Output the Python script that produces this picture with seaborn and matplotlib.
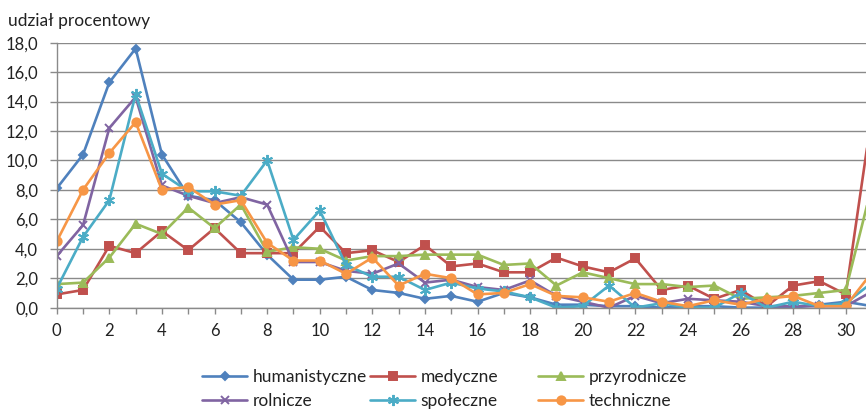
import pandas as pd
import numpy as np
import matplotlib.pyplot as plt
import seaborn as sns

# udzial procentowy wg dziedziny
x_vals = list(range(32))
humanistyczne = [8.1, 10.4, 15.3, 17.6, 10.4, 7.6, 7.3, 5.8, 3.6, 1.9, 1.9, 2.1, 1.2, 1.0, 0.6, 0.8,
                 0.4, 1.0, 0.7, 0.2, 0.2, 0.1, 0.1, 0.0, 0.1, 0.1, 0.0, 0.0, 0.0, 0.2, 0.4, 0.1]
medyczne = [0.9, 1.2, 4.2, 3.7, 5.2, 3.9, 5.4, 3.7, 3.7, 3.7, 5.5, 3.7, 3.9, 3.1, 4.25, 2.8,
            3.0, 2.4, 2.4, 3.4, 2.8, 2.4, 3.35, 1.2, 1.5, 0.6, 1.2, 0.1, 1.5, 1.8, 0.9, 13.2]
przyrodnicze = [1.6, 1.7, 3.4, 5.7, 5.0, 6.8, 5.4, 7.0, 3.8, 4.1, 4.0, 3.2, 3.5, 3.5, 3.6, 3.6,
                3.6, 2.9, 3.0, 1.5, 2.4, 2.0, 1.6, 1.6, 1.4, 1.5, 0.6, 0.7, 0.8, 1.0, 1.2, 8.3]
rolnicze = [3.5, 5.6, 12.2, 14.3, 8.3, 7.6, 7.1, 7.5, 7.0, 3.1, 3.1, 2.5, 2.3, 3.0, 1.7, 1.9,
            1.4, 1.2, 1.85, 0.8, 0.4, 0.0, 0.8, 0.3, 0.6, 0.5, 0.4, 0.1, 0.1, 0.1, 0.1, 1.1]
spoleczne = [1.3, 4.8, 7.3, 14.5, 9.1, 7.9, 7.9, 7.6, 10.0, 4.6, 6.6, 2.9, 2.1, 2.1, 1.2, 1.7,
             1.3, 1.1, 0.7, 0.0, 0.1, 1.5, 0.0, 0.3, 0.0, 0.0, 1.0, 0.0, 0.4, 0.1, 0.3, 1.7]
techniczne = [4.5, 8.0, 10.5, 12.6, 8.0, 8.2, 7.0, 7.3, 4.4, 3.2, 3.2, 2.3, 3.4, 1.5, 2.3, 2.0,
              0.9, 1.0, 1.6, 0.8, 0.7, 0.4, 1.0, 0.4, 0.1, 0.5, 0.2, 0.6, 0.8, 0.1, 0.1, 2.4]

names = ['humanistyczne', 'medyczne', 'przyrodnicze', 'rolnicze', 'społeczne', 'techniczne']
series = [humanistyczne, medyczne, przyrodnicze, rolnicze, spoleczne, techniczne]
colors = ['#4F81BD', '#C0504D', '#9BBB59', '#8064A2', '#4BACC6', '#F79646']
markers = ['D', 's', '^', 'x', (6, 2, 0), 'o']
msizes = [4.5, 6, 6, 5.5, 8, 6]

y_ticks = [0, 2, 4, 6, 8, 10, 12, 14, 16, 18]
y_tick_labels = ['0,0', '2,0', '4,0', '6,0', '8,0', '10,0', '12,0', '14,0', '16,0', '18,0']
x_ticks = list(range(31))
x_tick_labels = [str(i) if i % 2 == 0 else '' for i in x_ticks]

df = pd.DataFrame({
    'x': x_vals * len(names),
    'v': [v for s in series for v in s],
    'kier': [n for n in names for _ in x_vals],
})

sns.set_theme(style='white')
plt.rcParams['font.family'] = ['Lato', 'DejaVu Sans']
plt.rcParams['text.color'] = '#222222'

fig, ax = plt.subplots(figsize=(8.66, 4.18), dpi=100)
fig.subplots_adjust(left=0.0655, right=1.0, top=0.898, bottom=0.264)

sns.lineplot(data=df, x='x', y='v', hue='kier', hue_order=names,
             palette=dict(zip(names, colors)), linewidth=1.9, legend=False, ax=ax)

# markers like Excel (seaborn won't mix filled and line markers)
for line, c, m, ms in zip(ax.lines, colors, markers, msizes):
    line.set_marker(m)
    line.set_markeredgecolor(c)
    line.set_markerfacecolor(c)
    line.set_markersize(ms)
    line.set_markeredgewidth(1.4)

ax.set_xticks(x_ticks)
ax.set_xticklabels(x_tick_labels)
ax.set_yticks(y_ticks)
ax.set_yticklabels(y_tick_labels)
# chart is cut at the right edge, just before the last point
ax.set_xlim(0, 30.77)
ax.set_ylim(0, 18)
ax.set_xlabel('')
ax.set_ylabel('')

grey = '#8a8a8a'
ax.set_axisbelow(True)
ax.yaxis.grid(True, color=grey, linewidth=1.0)
ax.xaxis.grid(False)
for side in ['top', 'right']:
    ax.spines[side].set_visible(False)
for side in ['left', 'bottom']:
    ax.spines[side].set_color(grey)
    ax.spines[side].set_linewidth(1.0)
ax.tick_params(axis='x', length=4, width=1.0, color=grey, pad=7, labelsize=12, labelcolor='#222222', bottom=True)
ax.tick_params(axis='y', length=4.8, width=1.0, color=grey, pad=8.5, labelsize=12, labelcolor='#222222', left=True)

fig.text(8 / 866, 1 - 21 / 418, 'udział procentowy', fontsize=12.5, va='center', ha='left')

# legend: three columns, two rows each
col_x = [202, 370, 538]
for i, xpix in enumerate(col_x):
    hs = [ax.lines[i], ax.lines[i + 3]]
    ls = [names[i], names[i + 3]]
    leg = fig.legend(hs, ls, loc='center left', bbox_to_anchor=(xpix / 866, 1 - 389 / 418),
                     frameon=False, fontsize=12.5, handlelength=2.6, handletextpad=0.3,
                     borderpad=0, borderaxespad=0, labelspacing=0.45)

fig.savefig('out.png', dpi=100)
